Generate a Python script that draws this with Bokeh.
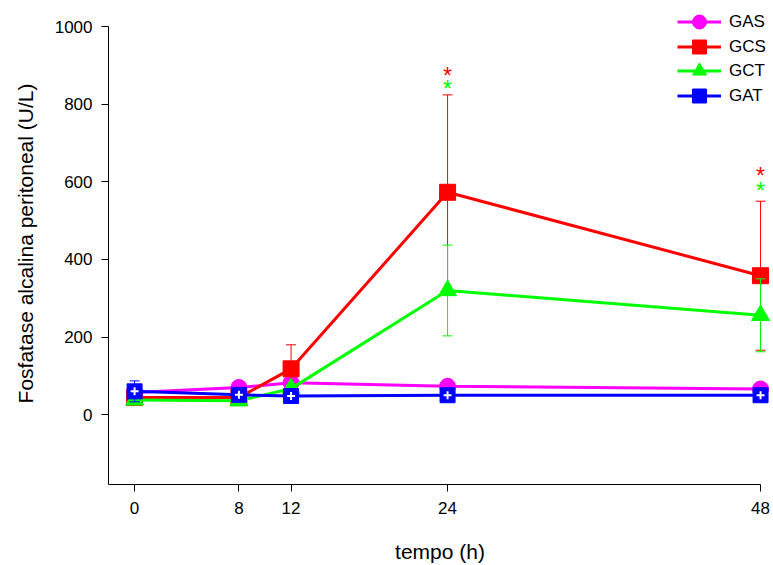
from bokeh.plotting import figure
from bokeh.models import Range1d, FixedTicker, Legend, LegendItem
from bokeh.embed import file_html
from bokeh.resources import INLINE
from bokeh.core.properties import value

# ---- data ----
hours = [0, 8, 12, 24, 48]
hour_ticks = [0, 8, 12, 24, 48]
y_ticks = [0, 200, 400, 600, 800, 1000]

gas = [57, 70, 82, 73, 66]
gas_se = [5, 4, 5, 6, 5]
gcs = [44, 44, 118, 573, 358]
gcs_se = [8, 6, 62, 251, 192]
gct = [38, 36, 67, 320, 256]
gct_se = [6, 4, 10, 117, 94]
gat = [60, 51, 48, 50, 50]
gat_se = [27, 5, 4, 4, 4]

sig_hours = [24, 48]
sig_gcs_y = [881, 622]
sig_gct_y = [847, 585]

FONT = "Liberation Sans"

# frame extended past the axes so edge markers and legend are not clipped;
# axis lines are limited with bounds
p = figure(width=773, height=565, x_range=Range1d(-2, 48.84), y_range=Range1d(-180, 1062),
           output_backend="svg", toolbar_location=None,
           min_border_left=108, min_border_right=2, min_border_top=2, min_border_bottom=81)
p.outline_line_color = None
p.grid.visible = False
p.background_fill_color = "white"

p.xaxis.ticker = FixedTicker(ticks=hour_ticks)
p.yaxis.ticker = FixedTicker(ticks=y_ticks)
p.xaxis.bounds = (-2, 48)
p.yaxis.bounds = (-180, 1000)
for ax in (p.xaxis, p.yaxis):
    ax.minor_tick_line_color = None
    ax.major_tick_in = 0
    ax.major_tick_out = 7
    ax.axis_line_color = "black"
    ax.major_tick_line_color = "black"
    ax.major_label_text_font = FONT
    ax.major_label_text_font_size = "17px"
    ax.major_label_text_color = "black"
    ax.axis_label_text_font = FONT
    ax.axis_label_text_font_size = "21px"
    ax.axis_label_text_font_style = "normal"
    ax.axis_label_text_color = "black"
    ax.major_label_standoff = 9

p.xaxis.major_label_standoff = 10
p.xaxis.axis_label = "tempo (h)"
p.yaxis.axis_label = "Fosfatase alcalina peritoneal (U/L)"
p.xaxis.axis_label_standoff = 23
p.yaxis.axis_label_standoff = 15

series = [
    ("GAS", gas, gas_se, "#FF00FF", "circle", 16),
    ("GCS", gcs, gcs_se, "#FF0000", "square", 16),
    ("GCT", gct, gct_se, "#00FF00", "triangle", 18),
    ("GAT", gat, gat_se, "#0000FF", "square", 15),
]

items = []
for name, vals, se, color, marker, size in series:
    lo = [v - s for v, s in zip(vals, se)]
    hi = [v + s for v, s in zip(vals, se)]
    p.segment(x0=hours, y0=lo, x1=hours, y1=hi, line_color=color, line_width=1)
    p.scatter(x=hours, y=hi, marker="dash", size=10, line_color=color, line_width=1)
    p.scatter(x=hours, y=lo, marker="dash", size=10, line_color=color, line_width=1)
    ln = p.line(x=hours, y=vals, line_color=color, line_width=3)
    mk = p.scatter(x=hours, y=vals, marker=marker, size=size, fill_color=color, line_color=color, line_width=1)
    if name == "GAT":
        p.scatter(x=hours, y=vals, marker="cross", size=8, line_color="white", line_width=2)
    items.append(LegendItem(label=name, renderers=[ln, mk]))

p.text(x=sig_hours, y=sig_gcs_y, text=["*", "*"], text_color="#FF0000",
       text_font=value(FONT), text_font_size="23px", text_align="center",
       text_baseline="alphabetic", y_offset=3)
p.text(x=sig_hours, y=sig_gct_y, text=["*", "*"], text_color="#00FF00",
       text_font=value(FONT), text_font_size="23px", text_align="center",
       text_baseline="alphabetic", y_offset=3)

# one legend box per entry so that entries can sit closer than the glyph height
legend_rows_vy = [445, 420, 396, 371]
for item, vy in zip(items, legend_rows_vy):
    lg = Legend(items=[item], location=(569, vy), border_line_color=None,
                background_fill_alpha=0, padding=0, margin=0, spacing=0,
                glyph_width=44, glyph_height=35, label_standoff=8,
                label_text_font=FONT, label_text_font_size="17px", label_text_color="black")
    p.add_layout(lg)

open("out.html", "w").write(file_html(p, INLINE))
